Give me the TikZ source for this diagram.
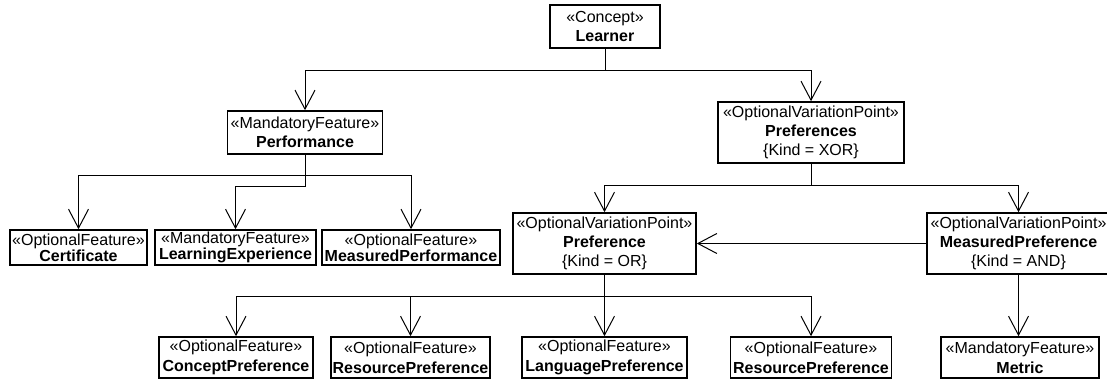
\documentclass[tikz,border=0pt]{standalone}
\usepackage{fontspec}
\setmainfont{Liberation Sans}
\usetikzlibrary{arrows.meta}
\begin{document}
\begin{tikzpicture}[x=1pt,y=-1pt,
  box/.style={draw,line width=1.6pt,inner sep=0pt,align=center,
    font=\fontsize{16}{19}\selectfont},
  twoline/.style={box,minimum height=43pt},
  threeline/.style={box,minimum height=61pt},
  leaf/.style={box,minimum height=35pt,font=\fontsize{16}{13.5}\selectfont},
  lowleaf/.style={box,minimum height=41pt,font=\fontsize{16}{20}\selectfont},
  conn/.style={line width=1pt},
  arr/.style={conn,-{Straight Barb[length=19pt,width=20pt,line width=1pt]}},
]
\useasboundingbox (0,0) rectangle (1107,380);

% top level
\node[twoline,minimum width=110pt] (learner) at (605,26.5)
  {«Concept»\\\textbf{Learner}};
\node[twoline,minimum width=155pt] (perf) at (305,132.5)
  {«MandatoryFeature»\\\textbf{Performance}};
\node[threeline,minimum width=186pt] (prefs) at (811,132.5)
  {«OptionalVariationPoint»\\\textbf{Preferences}\\\{Kind = XOR\}};

% performance children
\node[leaf,minimum width=137pt] (cert) at (78.5,247.5)
  {«OptionalFeature»\\\textbf{Certificate}};
\node[leaf,minimum width=161pt] (lexp) at (235.5,247.5)
  {«MandatoryFeature»\\\textbf{LearningExperience}};
\node[leaf,minimum width=178pt] (mperf) at (411,247.5)
  {«OptionalFeature»\\\textbf{MeasuredPerformance}};

% preference variation points
\node[threeline,minimum width=183pt] (pref) at (604.5,243.5)
  {«OptionalVariationPoint»\\\textbf{Preference}\\\{Kind = OR\}};
\node[threeline,minimum width=183pt] (mpref) at (1018.5,243.5)
  {«OptionalVariationPoint»\\\textbf{MeasuredPreference}\\\{Kind = AND\}};

% leaves
\node[lowleaf,minimum width=154pt] (concept) at (236,357.5)
  {«OptionalFeature»\\\textbf{ConceptPreference}};
\node[lowleaf,minimum width=159pt] (res1) at (410.5,357.5)
  {«OptionalFeature»\\\textbf{ResourcePreference}};
\node[lowleaf,minimum width=165pt] (lang) at (604.5,357.5)
  {«OptionalFeature»\\\textbf{LanguagePreference}};
\node[lowleaf,minimum width=161pt] (res2) at (811,357.5)
  {«OptionalFeature»\\\textbf{ResourcePreference}};
\node[lowleaf,minimum width=158pt] (metric) at (1020,357.5)
  {«MandatoryFeature»\\\textbf{Metric}};

% connectors
\draw[arr] (learner.south) -- ++(0,21.5) -| (perf.north);
\draw[arr] (learner.south) -- ++(0,21.5) -| (prefs.north);

\draw[arr] (perf.south) -- ++(0,21) -| (cert.north);
\draw[arr] (perf.south) -- ++(0,21) -| (mperf.north);
\draw[arr] (perf.south) -- ++(0,32) -| (lexp.north);

\draw[arr] (prefs.south) -- ++(0,22) -| (pref.north);
\draw[arr] (prefs.south) -- ++(0,22) -| (mpref.north);

\draw[arr] (mpref.west) -- (pref.east);

\draw[arr] (pref.south) -- (lang.north);
\draw[arr] (pref.south) -- ++(0,22) -| (concept.north);
\draw[arr] (pref.south) -- ++(0,22) -| (res1.north);
\draw[arr] (pref.south) -- ++(0,22) -| (res2.north);

\draw[arr] (mpref.south) -- (mpref.south |- metric.north);
\end{tikzpicture}
\end{document}
